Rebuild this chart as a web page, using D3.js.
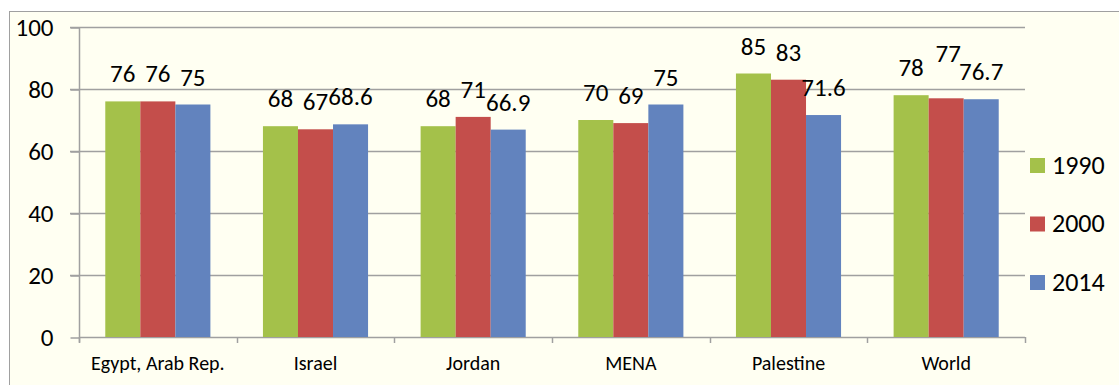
<!DOCTYPE html>
<html>
<head>
<meta charset="utf-8">
<script src="https://cdn.jsdelivr.net/npm/d3@7"></script>
<style>
  body { margin: 0; background: #fff; }
  svg text { font-family: Carlito, "Open Sans", "Liberation Sans", sans-serif; fill: #000; }
</style>
</head>
<body>
<div id="chart"></div>
<script>
var categories = ['Egypt, Arab Rep.', 'Israel', 'Jordan', 'MENA', 'Palestine', 'World'];
var years = ['1990', '2000', '2014'];
var v1990 = [76, 68, 68, 70, 85, 78];
var v2000 = [76, 67, 71, 69, 83, 77];
var v2014 = [75, 68.6, 66.9, 75, 71.6, 76.7];
var yTicks = [0, 20, 40, 60, 80, 100];
var colors = ['#a4c14a', '#c44e4b', '#6283be'];

var width = 1119, height = 385;
var mLeft = 79, mRight = 1025, mTop = 27, mBottom = 337;

var series = [v1990, v2000, v2014];

var svg = d3.select('#chart')
  .append('svg')
    .attr('width', width)
    .attr('height', height);

// cream frame, clipped on the right and bottom like the source
svg.append('rect')
  .attr('x', 9.5).attr('y', 11.5)
  .attr('width', 1130).attr('height', 400)
  .style('fill', '#fffff2')
  .style('stroke', '#a0a0a0')
  .style('stroke-width', 1);

var x = d3.scaleBand()
  .domain(categories)
  .range([mLeft, mRight])
  .paddingInner(0)
  .paddingOuter(0);

var xs = d3.scaleBand()
  .domain(years)
  .range([0, x.bandwidth()])
  .paddingInner(0)
  .paddingOuter(0.75);

var y = d3.scaleLinear()
  .domain([0, 100])
  .range([mBottom, mTop]);

// gridlines
svg.append('g')
  .selectAll('line')
  .data(yTicks.filter(function (t) { return t > 0; }))
  .enter().append('line')
    .attr('x1', mLeft - 9).attr('x2', mRight)
    .attr('y1', function (t) { return Math.round(y(t)) + 0.5; })
    .attr('y2', function (t) { return Math.round(y(t)) + 0.5; })
    .style('stroke', '#a0a0a0')
    .style('stroke-width', 1.5);

// y axis
var yAxis = svg.append('g')
  .attr('transform', 'translate(' + (mLeft + 0.5) + ',0.5)')
  .call(d3.axisLeft(y).tickValues(yTicks).tickSize(9).tickPadding(17));
yAxis.select('.domain').remove();
yAxis.selectAll('.tick line').style('stroke', '#a0a0a0').style('stroke-width', 1.5);
yAxis.selectAll('text').style('font-size', '25px').attr('font-family', null);
yAxis.append('line')
  .attr('x1', 0).attr('x2', 0)
  .attr('y1', mTop).attr('y2', mBottom + 5)
  .style('stroke', '#a0a0a0').style('stroke-width', 1.5);

// x axis
var bounds = d3.range(categories.length + 1).map(function (i) { return mLeft + i * x.step(); });
var xg = svg.append('g');
xg.append('line')
  .attr('x1', mLeft).attr('x2', mRight)
  .attr('y1', mBottom + 0.5).attr('y2', mBottom + 0.5)
  .style('stroke', '#a0a0a0').style('stroke-width', 1.5);
xg.selectAll('line.tk')
  .data(bounds)
  .enter().append('line')
    .classed('tk', true)
    .attr('x1', function (b) { return Math.round(b) + 0.5; })
    .attr('x2', function (b) { return Math.round(b) + 0.5; })
    .attr('y1', mBottom).attr('y2', mBottom + 6)
    .style('stroke', '#a0a0a0').style('stroke-width', 1.5);
xg.selectAll('text')
  .data(categories)
  .enter().append('text')
    .attr('x', function (c) { return x(c) + x.bandwidth() / 2; })
    .attr('y', 370)
    .attr('text-anchor', 'middle')
    .style('font-size', '20px')
    .text(function (c) { return c; });

// bars
var bars = [];
categories.forEach(function (c, i) {
  years.forEach(function (yr, j) {
    bars.push({ cat: c, year: yr, value: series[j][i], color: colors[j] });
  });
});

var g = svg.selectAll('g.bar')
  .data(bars)
  .enter().append('g')
    .classed('bar', true);

g.append('rect')
  .attr('x', function (d) { return x(d.cat) + xs(d.year); })
  .attr('y', function (d) { return y(d.value); })
  .attr('width', xs.bandwidth())
  .attr('height', function (d) { return y(0) - y(d.value); })
  .style('fill', function (d) { return d.color; });

// label nudges for overlapping labels
function nudge(d) {
  if (d.cat === 'World' && d.year === '2000') return [2, -17];
  return [0, 0];
}

g.append('text')
  .attr('x', function (d) { return x(d.cat) + xs(d.year) + xs.bandwidth() / 2 + nudge(d)[0]; })
  .attr('y', function (d) { return y(d.value) - 19 + nudge(d)[1]; })
  .attr('text-anchor', 'middle')
  .style('font-size', '25px')
  .text(function (d) { return d.value; });

// legend
var lg = svg.selectAll('g.legend')
  .data(years)
  .enter().append('g')
    .classed('legend', true)
    .attr('transform', function (d, i) { return 'translate(1030,' + (158 + i * 58.5) + ')'; });
lg.append('rect')
  .attr('width', 15).attr('height', 15)
  .style('fill', function (d, i) { return colors[i]; });
lg.append('text')
  .attr('x', 22).attr('y', 15.5)
  .style('font-size', '26px')
  .text(function (d) { return d; });
</script>
</body>
</html>
